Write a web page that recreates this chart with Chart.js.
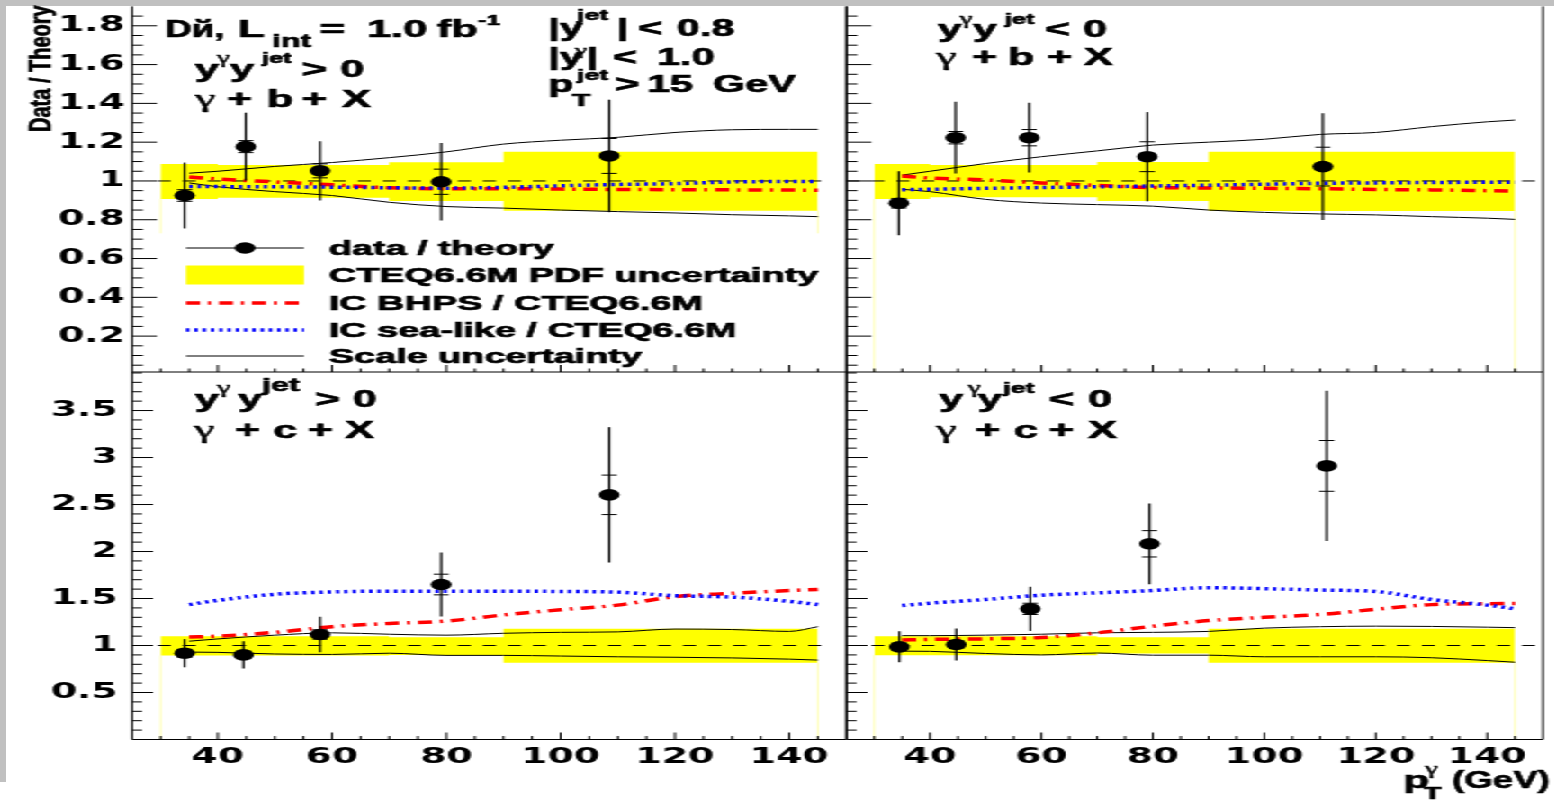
<!DOCTYPE html>
<html>
<head>
<meta charset="utf-8">
<title>Data / Theory</title>
<script src="https://cdn.jsdelivr.net/npm/chart.js@4.4.1/dist/chart.umd.min.js"></script>
<style>
html, body { margin: 0; padding: 0; background: #fff; overflow: hidden; }
.edge { position: absolute; background: #c0c0c0; }
/* the reference picture is stretched sideways, so the whole drawing is too */
#wrap { position: absolute; left: 0; top: 0; width: 863px; height: 801px; transform: scaleX(1.8); transform-origin: 0 0; }
#wrap canvas { position: absolute; left: 0; top: 0; }
</style>
</head>
<body>
<div class="edge" style="left:0;top:0;width:1554px;height:6px"></div>
<div class="edge" style="left:0;top:0;width:6px;height:782px"></div>
<div id="wrap">
  <canvas id="tl" width="863" height="801"></canvas>
  <canvas id="tr" width="863" height="801"></canvas>
  <canvas id="bl" width="863" height="801"></canvas>
  <canvas id="br" width="863" height="801"></canvas>
</div>
<script>
const S = 1.8;            // horizontal stretch of the page
const W = 863, H = 801;   // canvas size before the stretch

// ---- data ----
const xTicks = [40, 60, 80, 100, 120, 140];
const yTicksB = [0.2, 0.4, 0.6, 0.8, 1, 1.2, 1.4, 1.6, 1.8];
const yTicksC = [0.5, 1, 1.5, 2, 2.5, 3, 3.5];

// x grid of the theory curves, and the bins of the PDF band
const thX = [35, 40, 50, 60, 70, 80, 90, 100, 110, 120, 130, 140, 145];
const pdfEdges = [30, 40, 70, 90, 145];
const refLeft = [29.5, 147.5];
const refRight = [25, 150];

// gamma + b + X, y*y > 0
const bPosX = [34.2, 44.9, 57.9, 79.1, 108.5];
const bPosY = [0.925, 1.177, 1.052, 0.996, 1.129];
const bPosTot = [0.17, 0.175, 0.153, 0.2, 0.29];
const bPosStat = [0.03, 0.031, 0.036, 0.065, 0.09];
const bPosBhps = [1.02, 1.01, 0.995, 0.98, 0.965, 0.96, 0.96, 0.958, 0.956, 0.955, 0.954, 0.953, 0.952];
const bPosSea = [0.972, 0.971, 0.97, 0.968, 0.965, 0.963, 0.967, 0.975, 0.982, 0.986, 0.995, 0.997, 0.997];
const bPosScUp = [1.04, 1.05, 1.075, 1.095, 1.12, 1.15, 1.19, 1.21, 1.225, 1.25, 1.264, 1.266, 1.266];
const bPosScLo = [0.99, 0.97, 0.945, 0.925, 0.89, 0.868, 0.86, 0.85, 0.842, 0.835, 0.826, 0.82, 0.816];
const bPosPdfUp = [1.088, 1.082, 1.096, 1.151];
const bPosPdfLo = [0.907, 0.914, 0.897, 0.847];

// gamma + b + X, y*y < 0
const bNegX = [34.4, 44.6, 57.8, 79.0, 110.5];
const bNegY = [0.885, 1.223, 1.223, 1.125, 1.074];
const bNegTot = [0.165, 0.185, 0.18, 0.23, 0.275];
const bNegStat = [0.025, 0.032, 0.042, 0.077, 0.1];
const bNegBhps = [1.025, 1.015, 1.005, 0.99, 0.977, 0.966, 0.964, 0.962, 0.96, 0.956, 0.954, 0.95, 0.948];
const bNegSea = [0.955, 0.957, 0.962, 0.966, 0.97, 0.974, 0.978, 0.983, 0.988, 0.99, 0.992, 0.993, 0.993];
const bNegScUp = [1.03, 1.05, 1.09, 1.125, 1.155, 1.185, 1.2, 1.215, 1.24, 1.25, 1.28, 1.305, 1.314];
const bNegScLo = [0.957, 0.945, 0.905, 0.886, 0.878, 0.87, 0.85, 0.838, 0.83, 0.825, 0.816, 0.808, 0.802];
const bNegPdfUp = [1.088, 1.082, 1.098, 1.151];
const bNegPdfLo = [0.907, 0.916, 0.897, 0.845];

// gamma + c + X, y*y > 0
const cPosX = [34.2, 44.5, 57.9, 79.1, 108.5];
const cPosY = [0.918, 0.9, 1.117, 1.649, 2.603];
const cPosTot = [0.15, 0.145, 0.19, 0.34, 0.72];
const cPosStat = [0.04, 0.04, 0.05, 0.11, 0.21];
const cPosBhps = [1.09, 1.1, 1.14, 1.2, 1.235, 1.26, 1.325, 1.38, 1.43, 1.52, 1.555, 1.585, 1.596];
const cPosSea = [1.435, 1.48, 1.545, 1.57, 1.578, 1.578, 1.578, 1.575, 1.568, 1.53, 1.515, 1.47, 1.436];
const cPosScUp = [1.046, 1.07, 1.11, 1.135, 1.12, 1.11, 1.13, 1.14, 1.145, 1.175, 1.17, 1.15, 1.2];
const cPosScLo = [0.93, 0.927, 0.91, 0.905, 0.918, 0.895, 0.895, 0.888, 0.88, 0.875, 0.868, 0.855, 0.845];
const cPosPdfUp = [1.099, 1.099, 1.089, 1.177];
const cPosPdfLo = [0.894, 0.894, 0.9, 0.816];

// gamma + c + X, y*y < 0
const cNegX = [34.5, 44.7, 58.0, 79.4, 111.2];
const cNegY = [0.986, 1.011, 1.39, 2.082, 2.911];
const cNegTot = [0.165, 0.17, 0.235, 0.43, 0.8];
const cNegStat = [0.04, 0.04, 0.06, 0.14, 0.27];
const cNegBhps = [1.058, 1.065, 1.071, 1.085, 1.135, 1.205, 1.265, 1.3, 1.33, 1.385, 1.435, 1.445, 1.447];
const cNegSea = [1.425, 1.45, 1.49, 1.535, 1.56, 1.585, 1.615, 1.605, 1.59, 1.575, 1.49, 1.43, 1.39];
const cNegScUp = [1.105, 1.105, 1.11, 1.12, 1.135, 1.14, 1.15, 1.185, 1.2, 1.206, 1.203, 1.195, 1.19];
const cNegScLo = [0.94, 0.938, 0.915, 0.9, 0.92, 0.897, 0.897, 0.88, 0.88, 0.88, 0.87, 0.84, 0.822];
const cNegPdfUp = [1.099, 1.099, 1.089, 1.177];
const cNegPdfLo = [0.897, 0.897, 0.915, 0.816];

const legendLabels = ['data / theory', 'CTEQ6.6M PDF uncertainty', 'IC BHPS / CTEQ6.6M',
  'IC sea-like / CTEQ6.6M', 'Scale uncertainty'];

// ---- layout (page pixels) ----
const LEFT = [132, 846.5], RIGHT = [846.5, 1549];
const TOP = [6.4, 372], BOTTOM = [372, 739.5];
const RED = '#ff0000', BLUE = '#0000ff', YELLOW = '#ffff00';
const redDash = [7.8, 4.4, 1.7, 4.4];
const blueDash = [1.9, 2.7];
const FONT = '"Liberation Sans", Arial, sans-serif';
const GREEK = '"Liberation Serif", "DejaVu Serif", serif';
const TICKFONT = '"DejaVu Sans", sans-serif';
const LABEL_H = 45;   // room under the lower pads for the x labels

// y labels live inside the y scale box, so the left pads give that box the margin
function padFor(xr, yr, yLabels, xLabels) {
  return {
    left: yLabels ? 0 : xr[0] / S,
    right: W - xr[1] / S,
    top: yr[0],
    bottom: H - yr[1] - (xLabels ? LABEL_H : 0)
  };
}

const panels = {
  tl: {
    x: bPosX, y: bPosY, tot: bPosTot, stat: bPosStat, bhps: bPosBhps, sea: bPosSea,
    scUp: bPosScUp, scLo: bPosScLo, pdfUp: bPosPdfUp, pdfLo: bPosPdfLo, ref: refLeft,
    area: [LEFT, TOP], yMin: 0.015, yMax: 1.9, yTicks: yTicksB, yMinor: 0.05, yMajor: 0.2,
    tickLen: [13.9, 6.1], yLabels: true, xLabels: false, yPad: 4, edgeStop: 0.73, legend: true,
    texts: [
      ['Dй,', 165, 37, 24, 0, 0.85], ['L', 238, 37, 24], ['int', 272, 47, 18], ['=', 320, 37, 24],
      ['1.0', 367, 37, 24], ['fb', 437, 37, 24], ['-1', 478, 25, 14],
      ['|y', 548, 36, 23], ['jet', 577, 20, 15], ['|', 617, 36, 23], ['<', 638, 36, 23], ['0.8', 677, 36, 23],
      ['|y', 548, 65, 23], ['γ', 575, 55, 15, 'g'], ['|', 587, 65, 23], ['<', 613, 65, 23], ['1.0', 657, 65, 23],
      ['p', 548, 92, 23], ['jet', 577, 80, 15], ['T', 572, 106, 17], ['>', 615, 92, 23], ['15', 647, 92, 23], ['GeV', 713, 92, 23],
      ['y', 195, 77, 24], ['γ', 217, 63, 16, 'g'], ['y', 230, 77, 24], ['jet', 262, 63, 14], ['>', 302, 77, 24], ['0', 340, 77, 24],
      ['γ', 195, 107, 26, 'g'], ['+', 227, 107, 24], ['b', 267, 107, 24], ['+', 302, 107, 24], ['X', 342, 107, 24]
    ]
  },
  tr: {
    x: bNegX, y: bNegY, tot: bNegTot, stat: bNegStat, bhps: bNegBhps, sea: bNegSea,
    scUp: bNegScUp, scLo: bNegScLo, pdfUp: bNegPdfUp, pdfLo: bNegPdfLo, ref: refRight,
    area: [RIGHT, TOP], yMin: 0.015, yMax: 1.9, yTicks: yTicksB, yMinor: 0.05, yMajor: 0.2,
    tickLen: [13.9, 6.1], yLabels: false, xLabels: false, yPad: 4, edgeStop: 0.015,
    texts: [
      ['y', 938, 37, 24], ['γ', 960, 24, 16, 'g'], ['y', 973, 37, 24], ['jet', 1005, 24, 14], ['<', 1045, 37, 24], ['0', 1083, 37, 24],
      ['γ', 936, 65, 26, 'g'], ['+', 972, 65, 24], ['b', 1008, 65, 24], ['+', 1047, 65, 24], ['X', 1084, 65, 24]
    ]
  },
  bl: {
    x: cPosX, y: cPosY, tot: cPosTot, stat: cPosStat, bhps: cPosBhps, sea: cPosSea,
    scUp: cPosScUp, scLo: cPosScLo, pdfUp: cPosPdfUp, pdfLo: cPosPdfLo, ref: refLeft,
    area: [LEFT, BOTTOM], yMin: 0, yMax: 3.91, yTicks: yTicksC, yMinor: 0.1, yMajor: 0.5,
    tickLen: [11.7, 5.6], yLabels: true, xLabels: true, yPad: 8, edgeStop: 0,
    texts: [
      ['y', 195, 407, 24], ['γ', 217, 393, 17, 'g'], ['y', 238, 407, 24], ['jet', 262, 391, 18], ['>', 315, 407, 24], ['0', 353, 407, 24],
      ['γ', 194, 438, 26, 'g'], ['+', 235, 438, 24], ['c', 273, 438, 24], ['+', 308, 438, 24], ['X', 345, 438, 24]
    ]
  },
  br: {
    x: cNegX, y: cNegY, tot: cNegTot, stat: cNegStat, bhps: cNegBhps, sea: cNegSea,
    scUp: cNegScUp, scLo: cNegScLo, pdfUp: cNegPdfUp, pdfLo: cNegPdfLo, ref: refRight,
    area: [RIGHT, BOTTOM], yMin: 0, yMax: 3.91, yTicks: yTicksC, yMinor: 0.1, yMajor: 0.5,
    tickLen: [11.7, 5.6], yLabels: false, xLabels: true, yPad: 8, edgeStop: 0,
    texts: [
      ['y', 939, 407, 24], ['γ', 968, 393, 16, 'g'], ['y', 978, 407, 24], ['jet', 1003, 393, 15], ['<', 1049, 407, 24], ['0', 1088, 407, 24],
      ['γ', 936, 438, 26, 'g'], ['+', 975, 438, 24], ['c', 1014, 438, 24], ['+', 1049, 438, 24], ['X', 1088, 438, 24],
      ['p', 1403, 788, 24], ['T', 1424, 799, 16], ['γ', 1425, 774, 16, 'g'], ['(GeV)', 1452, 788, 24, 0, 0.85]
    ]
  }
};

// ---- helpers ----
function curve(ys) { return thX.map((x, i) => ({ x: x, y: ys[i] })); }

function stepPts(edges, vals) {
  const pts = vals.map((v, i) => ({ x: edges[i], y: v }));
  pts.push({ x: edges[edges.length - 1], y: vals[vals.length - 1] });
  return pts;
}

function seg(ctx, x0, y0, x1, y1) {
  ctx.beginPath(); ctx.moveTo(x0, y0); ctx.lineTo(x1, y1); ctx.stroke();
}

// bold text with a thin outline, the reference lettering is heavy
function drawText(ctx, str, xPage, yBase, size, kind, kx) {
  ctx.save();
  ctx.translate(xPage / S, yBase);
  if (kx) ctx.scale(kx, 1);
  ctx.font = kind === 'g' ? size + 'px ' + GREEK : 'bold ' + size + 'px ' + FONT;
  ctx.fillText(str, 0, 0);
  ctx.lineWidth = kind === 'g' ? 0.5 : 0.7;
  ctx.strokeText(str, 0, 0);
  ctx.restore();
}

// frame, inward ticks, error bars, texts and legend, like a ROOT pad
const panelPlugin = {
  id: 'panel',
  beforeDatasetsDraw(chart) {
    const p = panels[chart.canvas.id];
    const ctx = chart.ctx, xs = chart.scales.x, ys = chart.scales.y;
    // faint side edges of the filled band
    ctx.save();
    ctx.strokeStyle = '#ffffb8';
    ctx.lineWidth = 1;
    [[pdfEdges[0], p.pdfLo[0]], [pdfEdges[pdfEdges.length - 1], p.pdfLo[p.pdfLo.length - 1]]].forEach(e => {
      const px = xs.getPixelForValue(e[0]);
      seg(ctx, px, ys.getPixelForValue(e[1]), px, ys.getPixelForValue(p.edgeStop));
    });
    ctx.restore();
  },
  afterDatasetsDraw(chart) {
    const p = panels[chart.canvas.id];
    const ctx = chart.ctx, xs = chart.scales.x, ys = chart.scales.y;
    const a = chart.chartArea;
    ctx.save();
    ctx.strokeStyle = '#000';
    ctx.fillStyle = '#000';

    // error bars: total as the long line, statistical as the small caps
    p.x.forEach((xv, i) => {
      const px = xs.getPixelForValue(xv);
      ctx.lineWidth = 1.2;
      seg(ctx, px, ys.getPixelForValue(p.y[i] + p.tot[i]), px, ys.getPixelForValue(p.y[i] - p.tot[i]));
      ctx.lineWidth = 1;
      [p.y[i] + p.stat[i], p.y[i] - p.stat[i]].forEach(v => {
        const py = ys.getPixelForValue(v);
        seg(ctx, px - 4.2, py, px + 4.2, py);
      });
    });

    // frame
    ctx.lineWidth = 1;
    seg(ctx, a.left, a.top, a.left, a.bottom);
    seg(ctx, a.right, a.top, a.right, a.bottom);
    seg(ctx, a.left, a.bottom, a.right, a.bottom);

    // y ticks pointing into the pad
    const n0 = Math.ceil(p.yMin / p.yMinor), n1 = Math.floor(p.yMax / p.yMinor);
    for (let n = n0; n <= n1; n++) {
      const v = n * p.yMinor;
      if (v <= p.yMin) continue;
      const r = v / p.yMajor;
      const major = Math.abs(r - Math.round(r)) < 1e-6;
      const py = ys.getPixelForValue(v);
      seg(ctx, a.left, py, a.left + (major ? p.tickLen[0] : p.tickLen[1]), py);
    }
    // x ticks pointing up
    for (let v = 30; v < 150; v += 5) {
      const px = xs.getPixelForValue(v);
      const len = v % 20 === 0 ? 7 : 3.5;
      seg(ctx, px, a.bottom, px, a.bottom - len);
    }

    // texts
    ctx.textAlign = 'left';
    ctx.textBaseline = 'alphabetic';
    p.texts.forEach(t => drawText(ctx, t[0], t[1], t[2], t[3], t[4], t[5]));

    if (p.legend) {
      // y axis title
      ctx.save();
      ctx.translate(50 / S, 132);
      ctx.rotate(-Math.PI / 2);
      ctx.scale(1, 0.84);
      ctx.font = 'bold 20px ' + FONT;
      ctx.fillText('Data / Theory', 0, 0);
      ctx.lineWidth = 0.6;
      ctx.strokeText('Data / Theory', 0, 0);
      ctx.restore();

      // legend
      const rows = [248, 275, 303, 330, 356];
      const x0 = 186 / S, x1 = 304 / S, xm = 245 / S;
      ctx.lineWidth = 1;
      seg(ctx, x0, rows[0], x1, rows[0]);
      ctx.beginPath(); ctx.arc(xm, rows[0], 5.8, 0, Math.PI * 2); ctx.fill();
      ctx.fillStyle = YELLOW;
      ctx.fillRect(x0, rows[1] - 9.5, x1 - x0, 19);
      ctx.lineWidth = 3.5;
      ctx.strokeStyle = RED; ctx.setLineDash(redDash);
      seg(ctx, x0, rows[2], x1, rows[2]);
      ctx.strokeStyle = BLUE; ctx.setLineDash(blueDash);
      seg(ctx, x0, rows[3], x1, rows[3]);
      ctx.setLineDash([]);
      ctx.strokeStyle = '#000'; ctx.lineWidth = 1;
      seg(ctx, x0, rows[4], x1, rows[4]);
      ctx.fillStyle = '#000';
      legendLabels.forEach((s, i) => drawText(ctx, s, 329, rows[i] + 7, 21));
    }
    ctx.restore();
  }
};

function makeDatasets(p) {
  const line = { showLine: true, pointRadius: 0, fill: false, cubicInterpolationMode: 'monotone' };
  return [
    { data: p.x.map((x, i) => ({ x: x, y: p.y[i] })), showLine: false, pointRadius: 5.8,
      pointBackgroundColor: '#000', pointBorderWidth: 0, order: 0 },
    Object.assign({ data: curve(p.sea), borderColor: BLUE, borderWidth: 3.5, borderDash: blueDash, order: 1 }, line),
    Object.assign({ data: curve(p.bhps), borderColor: RED, borderWidth: 3.5, borderDash: redDash, order: 2 }, line),
    Object.assign({ data: p.ref.map(x => ({ x: x, y: 1 })), borderColor: '#000', borderWidth: 1,
      borderDash: [7.2, 6.7], order: 3 }, line),
    Object.assign({ data: curve(p.scUp), borderColor: '#000', borderWidth: 1, order: 4 }, line),
    Object.assign({ data: curve(p.scLo), borderColor: '#000', borderWidth: 1, order: 5 }, line),
    // histogram band: each value holds from its edge to the next one
    { data: stepPts(pdfEdges, p.pdfUp), showLine: true, stepped: 'before', pointRadius: 0,
      borderWidth: 0, borderColor: 'rgba(0,0,0,0)', backgroundColor: YELLOW, fill: '+1', order: 6 },
    { data: stepPts(pdfEdges, p.pdfLo), showLine: true, stepped: 'before', pointRadius: 0,
      borderWidth: 0, borderColor: 'rgba(0,0,0,0)', fill: false, order: 7 }
  ];
}

function makeChart(id) {
  const p = panels[id];
  const xr = p.area[0];
  const tickFont = { family: TICKFONT, weight: 'bold', size: 21 };
  return new Chart(document.getElementById(id), {
    type: 'scatter',
    data: { datasets: makeDatasets(p) },
    plugins: [panelPlugin],
    options: {
      responsive: false,
      animation: false,
      events: [],
      layout: { padding: padFor(xr, p.area[1], p.yLabels, p.xLabels) },
      plugins: { legend: { display: false }, tooltip: { enabled: false } },
      scales: {
        x: {
          type: 'linear', min: 25, max: 150,
          grid: { display: false, drawTicks: false }, border: { display: false },
          afterBuildTicks: s => { s.ticks = xTicks.map(v => ({ value: v })); },
          ticks: { display: p.xLabels, autoSkip: false, maxRotation: 0, padding: 5, color: '#000', font: tickFont },
          afterFit: s => { s.height = p.xLabels ? LABEL_H : 0; s.paddingLeft = 0; s.paddingRight = 0; }
        },
        y: {
          type: 'linear', min: p.yMin, max: p.yMax,
          grid: { display: false, drawTicks: false }, border: { display: false },
          afterBuildTicks: s => { s.ticks = p.yTicks.map(v => ({ value: v })); },
          ticks: { display: p.yLabels, autoSkip: false, padding: p.yPad, color: '#000', font: tickFont,
            callback: v => String(+v.toFixed(2)) },
          afterFit: s => { s.width = p.yLabels ? xr[0] / S : 0; s.paddingTop = 0; s.paddingBottom = 0; }
        }
      }
    }
  });
}

['tl', 'tr', 'bl', 'br'].forEach(makeChart);
</script>
</body>
</html>
